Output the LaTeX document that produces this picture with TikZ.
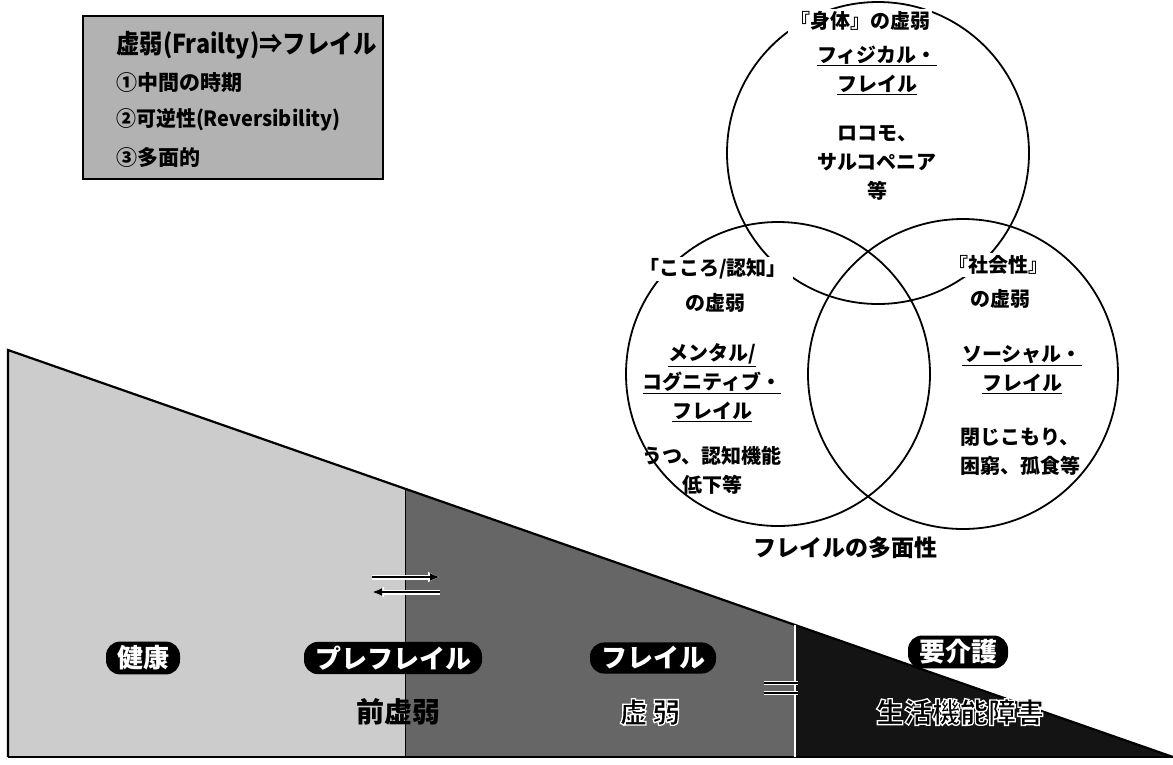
\documentclass[tikz,border=0pt]{standalone}
\usepackage{fontspec}
\setmainfont{Noto Sans CJK JP}
\usetikzlibrary{arrows.meta}
\tikzset{
  boxtxt/.style={anchor=west,inner sep=0pt,font=\bfseries\fontsize{21}{24}\selectfont},
  venn/.style={draw=black,line width=1.8pt},
  vtxt/.style={fill=white,inner sep=2pt,align=center,font=\bfseries\fontsize{20}{29}\selectfont},
  badge/.style={fill=black,text=white,rounded corners=14pt,inner xsep=11pt,inner ysep=4pt,font=\bfseries\fontsize{26}{28}\selectfont},
  sub/.style={font=\bfseries\fontsize{28}{30}\selectfont},
  arr/.style={-{Latex[length=10pt,width=8pt]},line width=2.4pt},
  arrhalo/.style={-{Latex[length=12pt,width=11pt]},line width=5pt,white},
}
\newcommand{\outl}[1]{\special{pdf:literal direct 2 Tr 1.3 w 1 1 1 RG}#1\special{pdf:literal direct 0 Tr 0 G}}
\begin{document}
\begin{tikzpicture}[x=1pt,y=-1pt]
\useasboundingbox (0,0) rectangle (1173,764);
\fill[white] (0,0) rectangle (1173,764);
% info box
\node[draw=black,line width=2pt,fill=black!30,minimum width=300pt,minimum height=163pt,anchor=north west,inner sep=0pt] (box) at (82,15) {};
\node[boxtxt] (t0) at (116,45) {\scalebox{0.9}[1]{\fontsize{26}{28}\selectfont 虚弱(Frailty)⇒フレイル}};
\node[boxtxt] (t1) at (116,83) {①中間の時期};
\node[boxtxt] (t2) at (116,120) {\scalebox{0.95}[1]{②可逆性(Reversibility)}};
\node[boxtxt] (t3) at (116,157) {③多面的};
% Venn
\draw[venn] (878,153) circle (151);
\draw[venn] (778,374) circle (152);
\draw[venn] (963,374) circle (155);
\node[vtxt] (p1) at (860,21) {『身体』の虚弱};
\node[vtxt,fill=none] (p2) at (877,70) {\underline{フィジカル・}\\\underline{フレイル}};
\node[vtxt,fill=none] (p3) at (877,163) {ロコモ、\\サルコペニア\\等};
\node[vtxt,inner xsep=6pt] (m1) at (713,269) {「こころ/認知」};
\node[vtxt,inner xsep=6pt] (m2) at (715,303) {の虚弱};
\node[vtxt,fill=none] (m3) at (712,383) {\underline{メンタル/}\\\underline{コグニティブ・}\\\underline{フレイル}};
\node[vtxt,fill=none] (m4) at (712,470) {うつ、認知機能\\低下等};
\node[vtxt,inner xsep=6pt] (s1) at (998,265) {『社会性』};
\node[vtxt,inner xsep=6pt] (s2) at (1000,299) {の虚弱};
\node[vtxt,fill=none] (s3) at (1022,370) {\underline{ソーシャル・}\\\underline{フレイル}};
\node[vtxt,fill=none] (s4) at (1020,452) {閉じこもり、\\困窮、孤食等};
\node[font=\bfseries\fontsize{23}{26}\selectfont] (cap) at (845,548) {フレイルの多面性};
% stages
\coordinate (tl) at (8,350);
\coordinate (br) at (1173,757);
\coordinate (bl) at (8,757);
\coordinate (d1t) at (405,489); \coordinate (d1b) at (405,757);
\coordinate (d2t) at (795,625); \coordinate (d2b) at (795,757);
\fill[black!20] (tl) -- (d1t) -- (d1b) -- (bl) -- cycle;
\fill[black!60] (d1t) -- (d2t) -- (d2b) -- (d1b) -- cycle;
\fill[black!92] (d2t) -- (br) -- (d2b) -- cycle;
\draw[line width=2.2pt] (bl) -- (tl) -- (br);
\draw[line width=2.2pt] (bl) -- (br);
\draw[line width=1pt] (d1t) -- (d1b);
\draw[white,line width=1.5pt] (d2t) -- (d2b);
% arrows healthy <-> prefrail
\coordinate (a1s) at (372,577); \coordinate (a1e) at (440,577);
\coordinate (a2s) at (440,592); \coordinate (a2e) at (372,592);
\draw[arrhalo] (a1s) -- (a1e);
\draw[arrhalo] (a2s) -- (a2e);
\draw[arr] (a1s) -- (a1e);
\draw[arr] (a2s) -- (a2e);
% arrows frail <-> care
\coordinate (b1s) at (764,683); \coordinate (b1e) at (798,683);
\coordinate (b2s) at (798,693); \coordinate (b2e) at (764,693);
\draw[line width=4.5pt,white] (b1s) -- (b1e);
\draw[line width=4.5pt,white] (b2s) -- (b2e);
\draw[line width=1.8pt] (b1s) -- (b1e);
\draw[line width=1.8pt] (b2s) -- (b2e);
% badges
\node[badge] (h) at (143,658) {健康};
\node[badge] (pf) at (393,658) {プレフレイル};
\node[badge] (f) at (653,658) {フレイル};
\node[badge] (c) at (958,652) {要介護};
\node[sub] (pfs) at (398,712) {前虚弱};
\node[sub] (fs) at (650,712) {\outl{虚\,弱}};
\node[sub] (cs) at (960,712) {\outl{生活機能障害}};
\end{tikzpicture}
\end{document}
